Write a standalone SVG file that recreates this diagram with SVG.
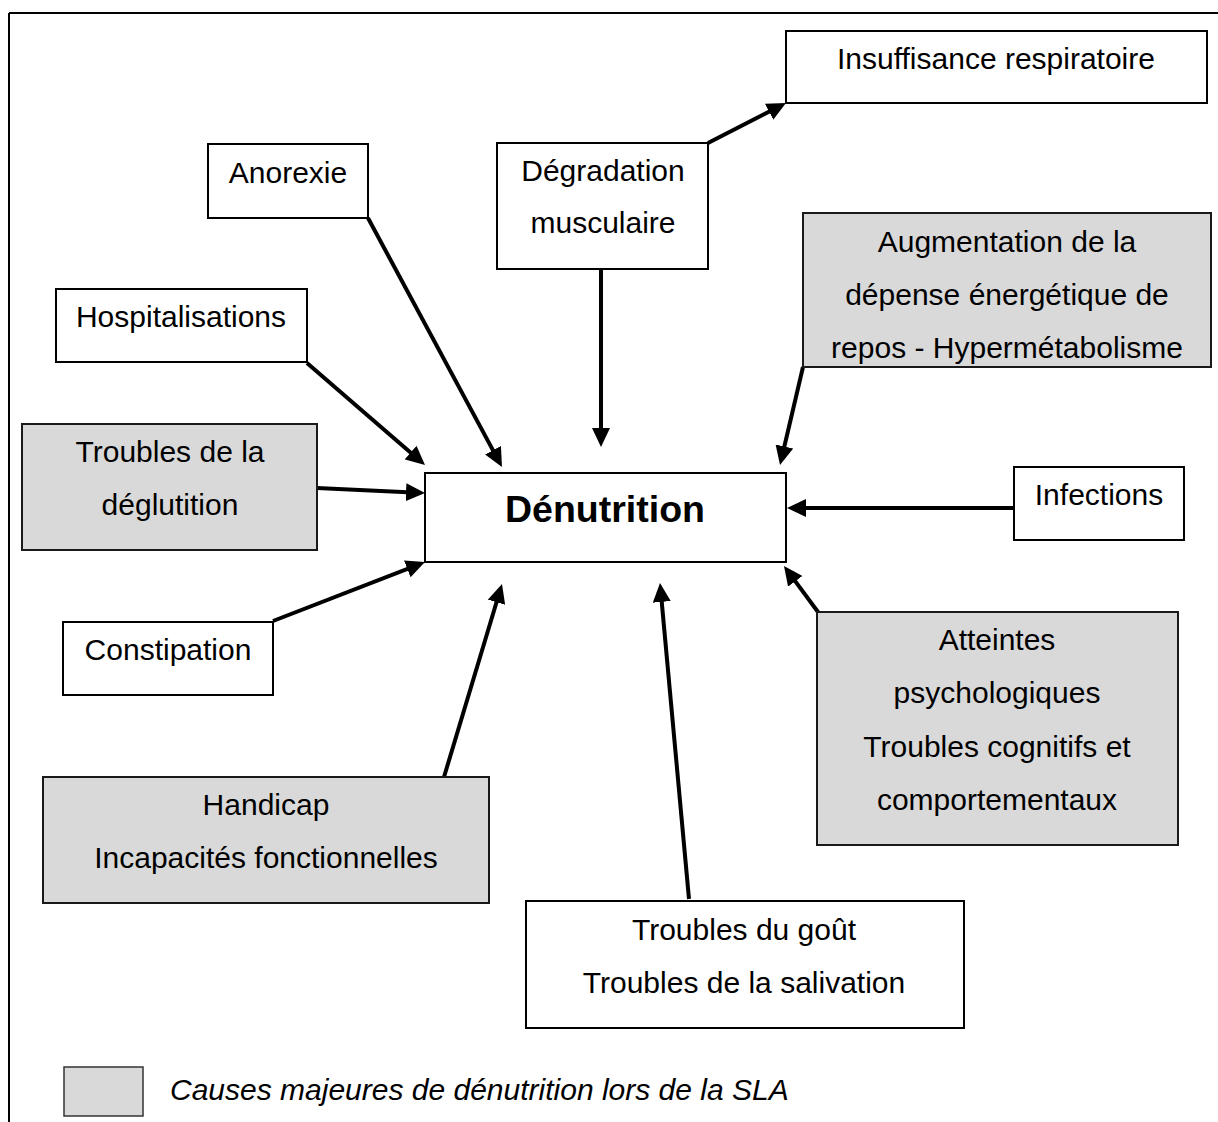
<svg xmlns="http://www.w3.org/2000/svg" width="1218" height="1122" viewBox="0 0 1218 1122">
<style>
.box{fill:#ffffff;stroke:#000000;stroke-width:2}
.major{fill:#d9d9d9;stroke:#1a1a1a;stroke-width:2}
.t{font-family:"Liberation Sans",Arial,Helvetica,sans-serif;font-size:30px;fill:#000000;text-anchor:middle}
.main{font-weight:bold;font-size:37.5px}
.leg{font-family:"Liberation Sans",Arial,Helvetica,sans-serif;font-size:30px;font-style:italic;fill:#000000}
.arr{fill:none;stroke:#000000;stroke-width:4;marker-end:url(#ah)}
</style>
<defs>
<marker id="ah" viewBox="0 0 19 18" refX="12" refY="9" markerWidth="19" markerHeight="18" markerUnits="userSpaceOnUse" orient="auto">
<path d="M0,0 L19,9 L0,18 z" fill="#000000"/>
</marker>
</defs>
<rect width="1218" height="1122" fill="#ffffff"/>
<g id="frame" stroke="#000000" stroke-width="2" fill="none">
<line x1="9" y1="13" x2="1218" y2="13"/>
<line x1="9" y1="13" x2="9" y2="1122"/>
</g>
<g id="connectors">
<line class="arr" x1="708" y1="143" x2="779.77" y2="106.19"/>
<line class="arr" x1="601" y1="269" x2="601" y2="440"/>
<line class="arr" x1="368" y1="218" x2="498.68" y2="460.84"/>
<line class="arr" x1="307" y1="363" x2="419.7" y2="460.42"/>
<line class="arr" x1="317" y1="488" x2="418" y2="492.68"/>
<line class="arr" x1="273" y1="621" x2="418.47" y2="564.53"/>
<line class="arr" x1="444" y1="777" x2="499.98" y2="590.71"/>
<line class="arr" x1="689" y1="899" x2="660.64" y2="589.97"/>
<line class="arr" x1="818" y1="612" x2="788.16" y2="571.63"/>
<line class="arr" x1="1014" y1="508" x2="794" y2="508"/>
<line class="arr" x1="803" y1="367" x2="781.6" y2="458.18"/>
</g>
<g id="insuffisance">
<rect class="box" x="786" y="31" width="421" height="72"/>
<text class="t" x="996" y="69">Insuffisance respiratoire</text>
</g>
<g id="anorexie">
<rect class="box" x="208" y="144" width="160" height="74"/>
<text class="t" x="288" y="183">Anorexie</text>
</g>
<g id="degradation">
<rect class="box" x="497" y="143" width="211" height="126"/>
<text class="t" x="603" y="181">Dégradation</text>
<text class="t" x="603" y="233">musculaire</text>
</g>
<g id="augmentation">
<rect class="major" x="803" y="213" width="408" height="154"/>
<text class="t" x="1007" y="252">Augmentation de la</text>
<text class="t" x="1007" y="305">dépense énergétique de</text>
<text class="t" x="1007" y="358">repos - Hypermétabolisme</text>
</g>
<g id="hospitalisations">
<rect class="box" x="56" y="289" width="251" height="73"/>
<text class="t" x="181" y="327">Hospitalisations</text>
</g>
<g id="deglutition">
<rect class="major" x="22" y="424" width="295" height="126"/>
<text class="t" x="170" y="462">Troubles de la</text>
<text class="t" x="170" y="515">déglutition</text>
</g>
<g id="denutrition">
<rect class="box" x="425" y="473" width="361" height="89"/>
<text class="t main" x="605" y="522">Dénutrition</text>
</g>
<g id="infections">
<rect class="box" x="1014" y="467" width="170" height="73"/>
<text class="t" x="1099" y="505">Infections</text>
</g>
<g id="constipation">
<rect class="box" x="63" y="622" width="210" height="73"/>
<text class="t" x="168" y="660">Constipation</text>
</g>
<g id="atteintes">
<rect class="major" x="817" y="612" width="361" height="233"/>
<text class="t" x="997" y="650">Atteintes</text>
<text class="t" x="997" y="703">psychologiques</text>
<text class="t" x="997" y="757">Troubles cognitifs et</text>
<text class="t" x="997" y="810">comportementaux</text>
</g>
<g id="handicap">
<rect class="major" x="43" y="777" width="446" height="126"/>
<text class="t" x="266" y="815">Handicap</text>
<text class="t" x="266" y="868">Incapacités fonctionnelles</text>
</g>
<g id="gout">
<rect class="box" x="526" y="901" width="438" height="127"/>
<text class="t" x="744" y="940">Troubles du goût</text>
<text class="t" x="744" y="993">Troubles de la salivation</text>
</g>
<g id="legend">
<rect x="64" y="1067" width="79" height="49" fill="#d9d9d9" stroke="#333333" stroke-width="1.5"/>
<text class="leg" x="170" y="1100">Causes majeures de dénutrition lors de la SLA</text>
</g>
</svg>
